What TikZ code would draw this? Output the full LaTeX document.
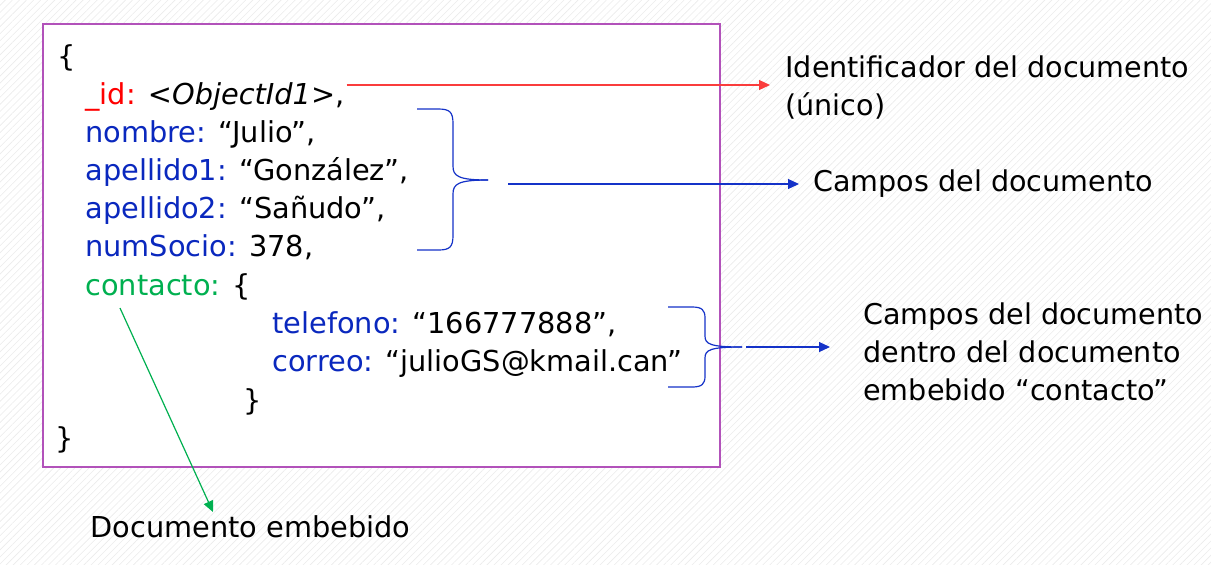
\documentclass[tikz,border=0pt]{standalone}
\usepackage{fontspec}
\setmainfont{DejaVu Sans}
\usetikzlibrary{patterns.meta, arrows.meta}

\definecolor{idred}{RGB}{255,0,0}
\definecolor{keyblue}{RGB}{10,40,190}
\definecolor{keygreen}{RGB}{0,176,80}
\definecolor{boxpurple}{RGB}{178,82,186}
\definecolor{arrowblue}{RGB}{20,50,200}
\definecolor{arrowred}{RGB}{250,60,60}

\tikzset{
  txt/.style={inner sep=0pt, anchor=base west, font=\fontsize{14.4}{19}\selectfont},
  lbl/.style={inner sep=0pt, anchor=west, align=left, font=\fontsize{14.3}{19}\selectfont},
  bracepath/.style={draw=arrowblue, line width=0.6pt},
  link/.style={->, >={Triangle[length=5.5pt, width=5pt]}, line width=0.6pt}
}
\newcommand{\kb}[1]{\textcolor{keyblue}{#1}}

\begin{document}
\begin{tikzpicture}[x=0.5pt, y=-0.5pt]
  \useasboundingbox (0,0) rectangle (1211,564);
  \fill[pattern={Lines[angle=45, distance=2.5pt, line width=0.3pt]}, pattern color=black!8] (0,0) rectangle (1211,564);
  \draw[boxpurple, fill=white, line width=0.9pt] (43,24) rectangle (720,467);

  % the document
  \node[txt] (open) at (57,66) {\{};
  \node[txt] (id) at (85,104) {\textcolor{idred}{\_id:} \textit{<ObjectId1>},};
  \node[txt] (nombre) at (85,142) {\kb{nombre:} “Julio”,};
  \node[txt] (ape1) at (85,180) {\kb{apellido1:} “González”,};
  \node[txt] (ape2) at (85,218) {\kb{apellido2:} “Sañudo”,};
  \node[txt] (socio) at (85,256) {\kb{numSocio:} 378,};
  \node[txt] (contacto) at (85,295) {\textcolor{keygreen}{contacto:} \{};
  \node[txt] (tel) at (272,333) {\kb{telefono:} “166777888”,};
  \node[txt] (correo) at (272,371) {\kb{correo:} “julioGS@kmail.can”};
  \node[txt] (cclose) at (243,410) {\}};
  \node[txt] (close) at (55,448) {\}};

  % labels
  \node[lbl] (lblid) at (785,88) {Identificador del documento\\(único)};
  \node[lbl] (lblcampos) at (813,184) {Campos del documento};
  \node[lbl] (lblcont) at (863,352) {Campos del documento\\dentro del documento\\embebido “contacto”};
  \node[txt] (lblemb) at (90,537) {Documento embebido};

  % braces
  \draw[bracepath] (417,109) -- (438,109) .. controls (450,109) and (453,112) .. (453,124)
    -- (453,166) .. controls (453,176) and (458,180) .. (488,180);
  \draw[bracepath] (417,250) -- (438,250) .. controls (450,250) and (453,247) .. (453,235)
    -- (453,194) .. controls (453,184) and (458,180) .. (488,180);
  \draw[bracepath] (668,307) -- (692,307) .. controls (702,307) and (705,310) .. (705,318)
    -- (705,336) .. controls (705,344) and (710,347) .. (742,347);
  \draw[bracepath] (668,387) -- (692,387) .. controls (702,387) and (705,384) .. (705,376)
    -- (705,358) .. controls (705,350) and (710,347) .. (742,347);

  % connectors
  \coordinate (idend) at (id.east |- 0,85);
  \coordinate (srcA) at (508,184);
  \coordinate (srcB) at (746,347);
  \coordinate (greenA) at (120,308);
  \coordinate (greenB) at (213,512);
  \draw[link, arrowred, shorten <=1pt, shorten >=7.5pt] (idend) -- (idend -| lblid.west);
  \draw[link, arrowblue, shorten >=7pt] (srcA) -- (srcA -| lblcampos.west);
  \draw[link, arrowblue, shorten >=16.5pt] (srcB) -- (srcB -| lblcont.west);
  \draw[link, keygreen] (greenA) -- (greenB);
\end{tikzpicture}
\end{document}
